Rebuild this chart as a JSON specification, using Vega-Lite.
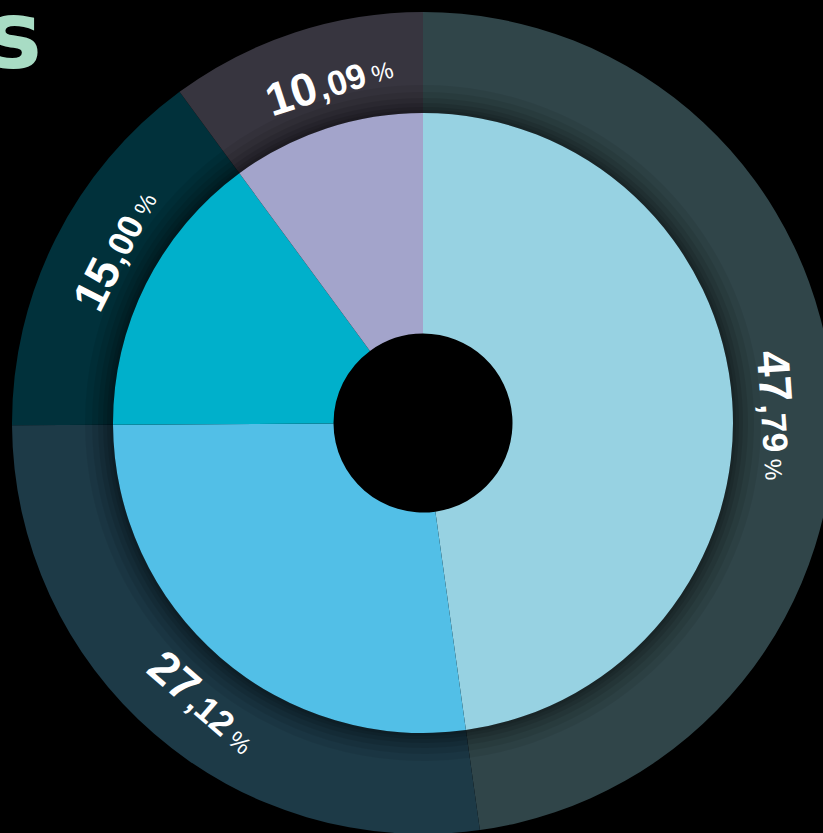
{
  "$schema": "https://vega.github.io/schema/vega-lite/v6.json",
  "autosize": {"type": "none"},
  "width": 800,
  "height": 820,
  "padding": {"left": 23, "top": 13, "right": 0, "bottom": 0},
  "background": "#000000",
  "view": {"stroke": null},
  "title": {
    "text": "s",
    "anchor": "start",
    "frame": "group",
    "font": "DejaVu Sans",
    "fontSize": 94,
    "fontWeight": "bold",
    "color": "#a8dcc4",
    "dx": -37,
    "dy": 76,
    "offset": 0
  },
  "data": {
    "values": [
      {"cat": "A", "value": 47.79, "rank": 1},
      {"cat": "B", "value": 27.12, "rank": 2},
      {"cat": "C", "value": 15.00, "rank": 3},
      {"cat": "D", "value": 10.09, "rank": 4}
    ]
  },
  "transform": [
    {"window": [{"op": "sum", "field": "value", "as": "cum"}], "sort": [{"field": "rank"}]},
    {"joinaggregate": [{"op": "sum", "field": "value", "as": "total"}]},
    {"calculate": "(datum.cum - datum.value / 2) / datum.total * 360", "as": "mid"},
    {"calculate": "datum.mid <= 90 ? datum.mid : (datum.mid < 270 ? datum.mid - 180 : datum.mid - 360)", "as": "rot"},
    {"calculate": "split(format(datum.value, '.2f'), '.')[0]", "as": "intPart"},
    {"calculate": "',' + split(format(datum.value, '.2f'), '.')[1]", "as": "decPart"}
  ],
  "encoding": {
    "theta": {"field": "value", "type": "quantitative", "stack": true},
    "order": {"field": "rank", "type": "quantitative"}
  },
  "layer": [
    {
      "mark": {"type": "arc", "radius": 411, "radius2": 310},
      "encoding": {
        "color": {
          "field": "cat", "type": "nominal", "legend": null,
          "scale": {"domain": ["A", "B", "C", "D"], "range": ["#304549", "#1d3a47", "#01313b", "#37353f"]}
        }
      }
    },
    {"mark": {"type": "arc", "radius": 338, "radius2": 310, "fill": "#000000", "opacity": 0.07}},
    {"mark": {"type": "arc", "radius": 331, "radius2": 310, "fill": "#000000", "opacity": 0.08}},
    {"mark": {"type": "arc", "radius": 325, "radius2": 310, "fill": "#000000", "opacity": 0.09}},
    {"mark": {"type": "arc", "radius": 320, "radius2": 310, "fill": "#000000", "opacity": 0.1}},
    {"mark": {"type": "arc", "radius": 316, "radius2": 310, "fill": "#000000", "opacity": 0.1}},
    {"mark": {"type": "arc", "radius": 313, "radius2": 310, "fill": "#000000", "opacity": 0.1}},
    {
      "mark": {"type": "arc", "radius": 310, "radius2": 89.5},
      "encoding": {
        "color": {
          "field": "cat", "type": "nominal", "legend": null,
          "scale": {"domain": ["A", "B", "C", "D"], "range": ["#97d2e2", "#52bfe7", "#00b0cb", "#a3a4cb"]}
        }
      }
    },
    {
      "mark": {"type": "text", "radius": 354, "font": "Liberation Sans", "fontSize": 46, "fontWeight": "bold", "fill": "#ffffff", "align": "left", "baseline": "alphabetic", "dx": -48, "dy": 16},
      "encoding": {
        "text": {"field": "intPart"},
        "angle": {"field": "rot", "type": "quantitative", "scale": null}
      }
    },
    {
      "mark": {"type": "text", "radius": 354, "font": "Liberation Sans", "fontSize": 35, "fontWeight": "bold", "fill": "#ffffff", "align": "left", "baseline": "alphabetic", "dx": 5, "dy": 16},
      "encoding": {
        "text": {"field": "decPart"},
        "angle": {"field": "rot", "type": "quantitative", "scale": null}
      }
    },
    {
      "mark": {"type": "text", "radius": 354, "font": "Liberation Sans", "fontSize": 24, "fontWeight": "normal", "fill": "#ffffff", "align": "left", "baseline": "alphabetic", "dx": 60, "dy": 16},
      "encoding": {
        "text": {"value": "%"},
        "angle": {"field": "rot", "type": "quantitative", "scale": null}
      }
    }
  ],
  "resolve": {"scale": {"color": "independent"}}
}
